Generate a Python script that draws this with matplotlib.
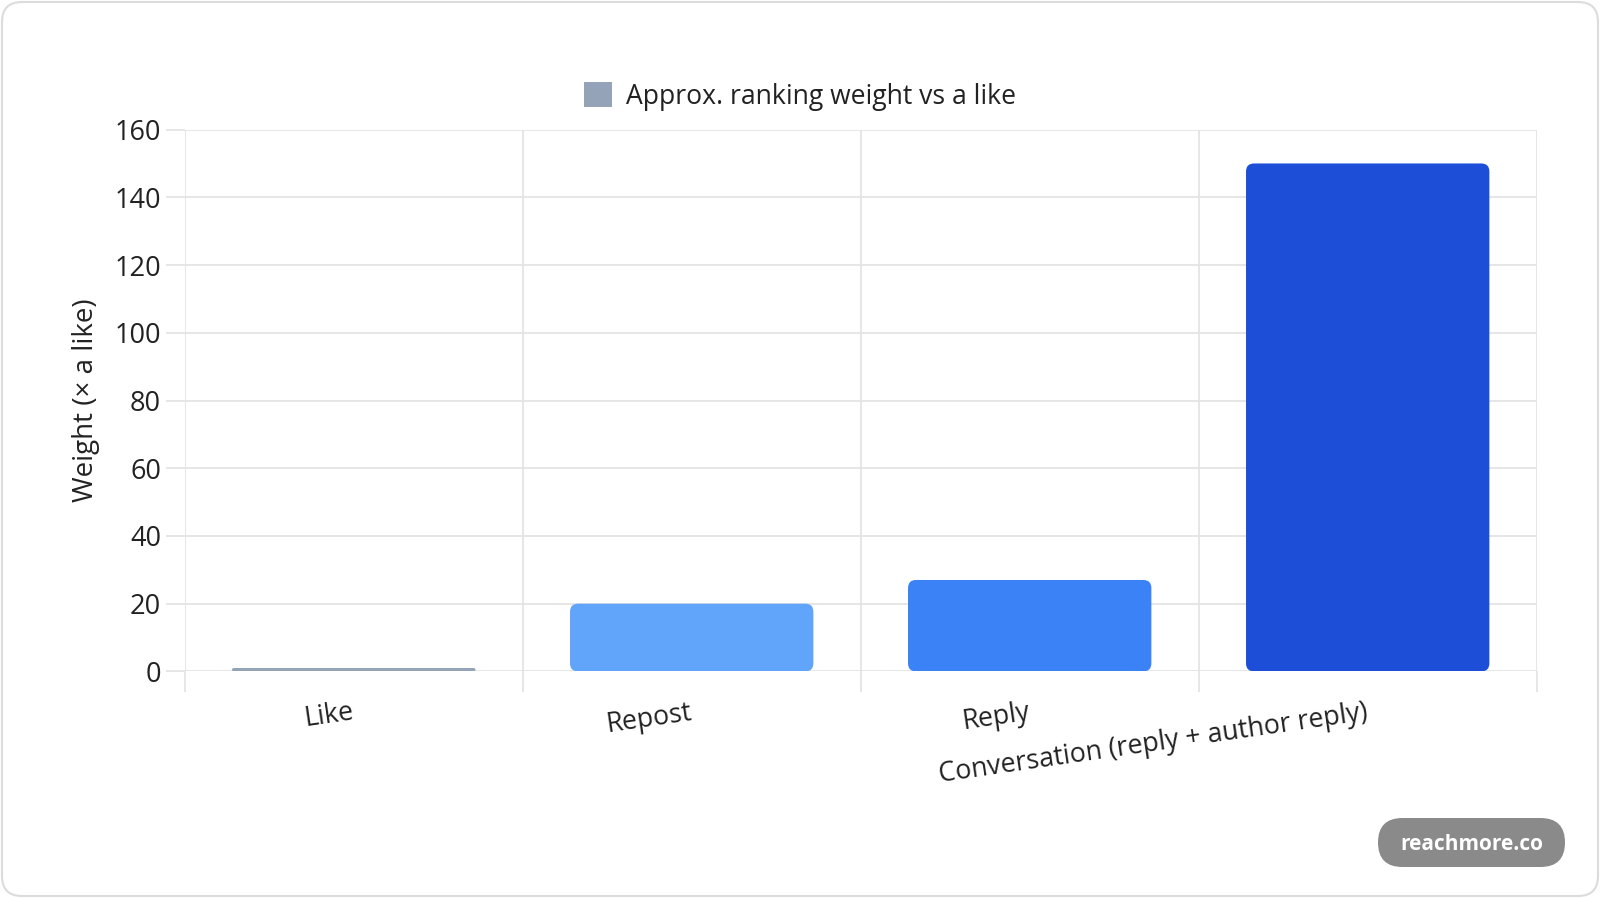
import matplotlib
matplotlib.use("Agg")
import matplotlib.pyplot as plt
from matplotlib.patches import FancyBboxPatch, Patch
import numpy as np

categories = ["Like", "Repost", "Reply", "Conversation (reply + author reply)"]
weights = [1, 20, 27, 150]
colors = ["#94a3b8", "#60a5fa", "#3b82f6", "#1d4ed8"]
legend_label = "Approx. ranking weight vs a like"
y_label = "Weight (× a like)"
y_ticks = [0, 20, 40, 60, 80, 100, 120, 140, 160]

plt.rcParams['font.family'] = ['Open Sans', 'DejaVu Sans']

W, H, DPI = 1600, 898, 100
fig = plt.figure(figsize=(W / DPI, H / DPI), dpi=DPI)
fig.patch.set_facecolor("white")

# card
card = FancyBboxPatch((2 / W, 2 / H), (W - 4) / W, (H - 4) / H,
                      boxstyle="round,pad=0,rounding_size=0.0125",
                      transform=fig.transFigure, facecolor="white",
                      edgecolor="#dcdcdc", linewidth=1.5, mutation_aspect=W / H,
                      zorder=-10)
fig.patches.append(card)

L, R, B, T = 184.7 / W, 1536.7 / W, (H - 671.4) / H, (H - 129.6) / H
ax = fig.add_axes([L, B, R - L, T - B])
ax.set_facecolor("none")
ax.set_xlim(-0.5, len(categories) - 0.5)
ax.set_ylim(0, 160)

ax_w_px = (R - L) * W
ax_h_px = (T - B) * H
px_per_x = ax_w_px / len(categories)
px_per_y = ax_h_px / 160.0

bar_w = 0.72
r_px = 8
for i, (v, c) in enumerate(zip(weights, colors)):
    h_px = v * px_per_y
    rr = min(r_px, h_px / 2) / px_per_x
    p = FancyBboxPatch((i - bar_w / 2, 0), bar_w, v,
                       boxstyle=f"round,pad=0,rounding_size={rr}",
                       mutation_aspect=px_per_x / px_per_y,
                       facecolor=c, edgecolor="none", zorder=3)
    ax.add_patch(p)

grid_c = "#e4e4e4"
for s in ax.spines.values():
    s.set_visible(False)

ax.set_yticks(y_ticks)
ax.yaxis.grid(True, color=grid_c, linewidth=1.3, zorder=0)
ax.tick_params(axis="y", length=14, color=grid_c, width=1.3, pad=3,
               labelsize=19.5, labelcolor="#222222")

ax.set_xticks(range(len(categories)))
ax.set_xticks(np.arange(-0.5, len(categories), 1.0), minor=True)
ax.set_xticklabels(categories, rotation=8.3, ha="right", va="center",
                   rotation_mode="anchor", fontsize=19.3, color="#222222")
ax.tick_params(axis="x", which="major", length=0, pad=29.5)
ax.tick_params(axis="x", which="minor", length=15, color=grid_c, width=1.3)
ax.xaxis.grid(True, which="minor", color=grid_c, linewidth=1.3, zorder=0)
ax.xaxis.grid(False, which="major")
ax.set_axisbelow(True)

ax.set_ylabel(y_label, fontsize=20, color="#222222")
ax.yaxis.label.set_va("center")
ax.yaxis.set_label_coords((86.5 - 184.7) / ax_w_px, 0.5)

handle = Patch(facecolor=colors[0], edgecolor="none")
fig.legend([handle], [legend_label], loc="center", bbox_to_anchor=(0.5, 1 - 96.5 / H),
           frameon=False, fontsize=19.1, handlelength=1.05, handleheight=1.05,
           handletextpad=0.55, labelcolor="#222222")

# watermark
pill = FancyBboxPatch((1378 / W, (H - 867) / H), 187 / W, 49 / H,
                      boxstyle="round,pad=0,rounding_size=0.0153",
                      transform=fig.transFigure, facecolor="#8a8a8a",
                      edgecolor="none", mutation_aspect=W / H, zorder=5)
fig.patches.append(pill)
fig.text((1378 + 187 / 2) / W, (H - 845) / H, "reachmore.co", color="white",
         fontsize=15, fontweight="bold", ha="center", va="center", zorder=6)

fig.savefig("out.png", dpi=DPI, facecolor="white")
